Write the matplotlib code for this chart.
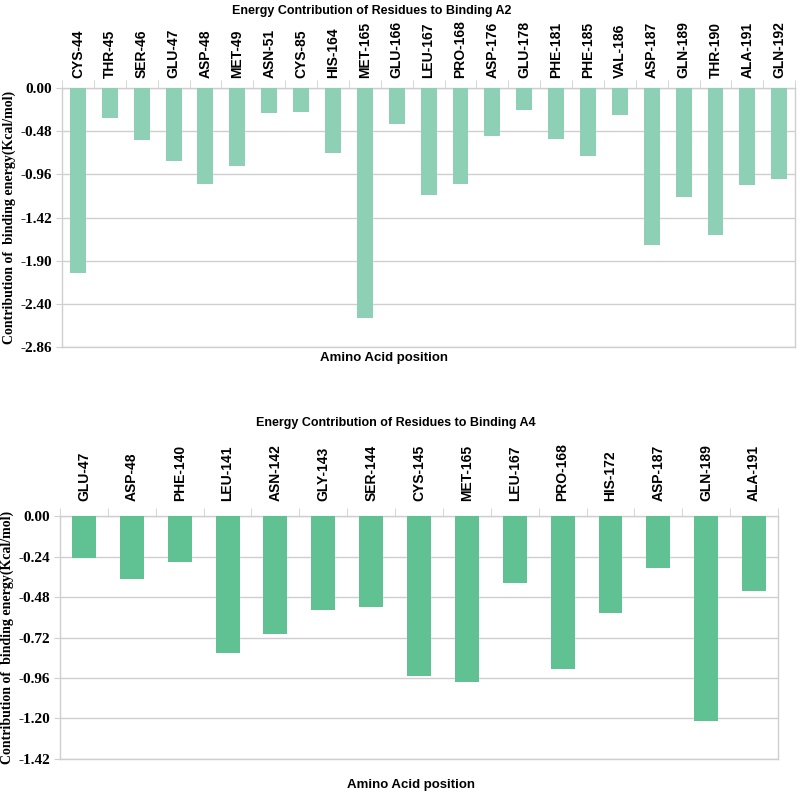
import matplotlib.pyplot as plt
import numpy as np

# A2 residues
res_a2 = ['CYS-44','THR-45','SER-46','GLU-47','ASP-48','MET-49','ASN-51','CYS-85',
          'HIS-164','MET-165','GLU-166','LEU-167','PRO-168','ASP-176','GLU-178',
          'PHE-181','PHE-185','VAL-186','ASP-187','GLN-189','THR-190','ALA-191','GLN-192']
energy_a2 = [-2.04, -0.335, -0.57, -0.81, -1.06, -0.86, -0.27, -0.265,
             -0.72, -2.54, -0.40, -1.18, -1.06, -0.53, -0.243,
             -0.567, -0.747, -0.294, -1.73, -1.20, -1.62, -1.07, -1.00]
yt_a2 = ['0.00','-0.48','-0.96','-1.42','-1.90','-2.40','-2.86']

# A4 residues
res_a4 = ['GLU-47','ASP-48','PHE-140','LEU-141','ASN-142','GLY-143','SER-144',
          'CYS-145','MET-165','LEU-167','PRO-168','HIS-172','ASP-187','GLN-189','ALA-191']
energy_a4 = [-0.247, -0.368, -0.269, -0.80, -0.688, -0.551, -0.530,
             -0.937, -0.972, -0.390, -0.894, -0.569, -0.306, -1.198, -0.438]
yt_a4 = ['0.00','-0.24','-0.48','-0.72','-0.96','-1.20','-1.42']

sans = ['Liberation Sans Narrow', 'Liberation Sans', 'DejaVu Sans']
serif = ['Liberation Serif', 'DejaVu Serif']
grid_c = '#cfcfcf'

fig = plt.figure(figsize=(8, 7.94), dpi=100)
ax1 = fig.add_axes([0.0775, 0.563, 0.9165, 0.326])
ax2 = fig.add_axes([0.075, 0.0441, 0.8975, 0.306])

def draw(ax, names, vals, ymin, ylabels, color, pad):
    n = len(names)
    x = np.arange(n)
    ax.bar(x, vals, width=0.5, color=color, zorder=3)
    ax.set_xlim(-0.5, n - 0.5)
    ax.set_ylim(ymin, 0)
    ax.xaxis.set_ticks_position('top')
    ax.set_xticks(x)
    ax.set_xticklabels(names, rotation=90, fontsize=10, fontweight='bold', family=sans)
    ax.set_xticks(np.arange(n + 1) - 0.5, minor=True)
    ax.tick_params(axis='x', which='major', length=0, pad=pad)
    ax.tick_params(axis='x', which='minor', length=6, color=grid_c, direction='out')
    yp = np.linspace(0, ymin, len(ylabels))
    ax.set_yticks(yp)
    ax.set_yticklabels(ylabels, fontsize=11, fontweight='bold', family=serif)
    ax.tick_params(axis='y', length=4, color=grid_c, pad=3)
    ax.grid(axis='y', color=grid_c, linewidth=1, zorder=0)
    for s in ax.spines.values():
        s.set_color(grid_c)
        s.set_linewidth(1)
    ax.set_ylabel('Contribution of  binding energy(Kcal/mol)', fontsize=10,
                  fontweight='bold', family=serif, labelpad=3)

draw(ax1, res_a2, energy_a2, -2.86, yt_a2, '#8dd0b6', 7)
draw(ax2, res_a4, energy_a4, -1.42, yt_a4, '#60c193', 11)

fig.text(0.465, 0.986, 'Energy Contribution of Residues to Binding A2', ha='center', va='center',
         fontsize=9, fontweight='bold', family=sans)
fig.text(0.48, 0.549, 'Amino Acid position', ha='center', va='center',
         fontsize=9.5, fontweight='bold', family=sans)
fig.text(0.495, 0.467, 'Energy Contribution of Residues to Binding A4', ha='center', va='center',
         fontsize=9, fontweight='bold', family=sans)
fig.text(0.514, 0.011, 'Amino Acid position', ha='center', va='center',
         fontsize=9.5, fontweight='bold', family=sans)

fig.savefig('out.png', dpi=100)
